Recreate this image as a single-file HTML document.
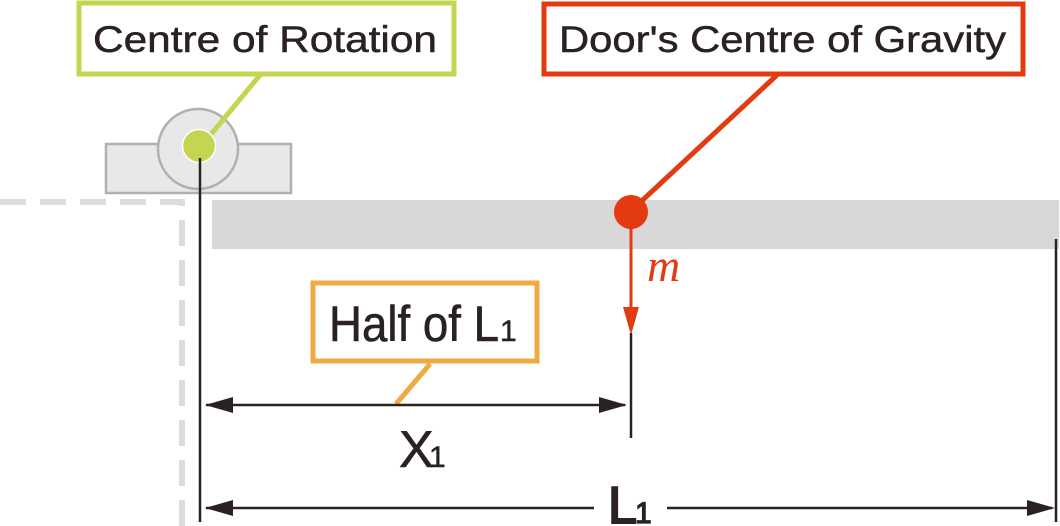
<!DOCTYPE html>
<html><head><meta charset="utf-8"><style>html,body{margin:0;padding:0;background:#fff}svg{display:block}</style></head>
<body>
<svg width="1060" height="526" viewBox="0 0 1060 526" xmlns="http://www.w3.org/2000/svg" font-family="Liberation Sans, sans-serif">
<!-- dashed frame -->
<path d="M0,202 H182 V526" fill="none" stroke="#dcdcdc" stroke-width="6" stroke-dasharray="26,14"/>
<!-- door -->
<rect x="212" y="200" width="847" height="49" fill="#d8d8d8"/>
<!-- hinge -->
<rect x="106" y="144" width="185" height="49" fill="#e8e8e8" stroke="#b0b0b0" stroke-width="2.5"/>
<circle cx="198" cy="149" r="40" fill="#e8e8e8" stroke="#b0b0b0" stroke-width="2.5"/>
<line x1="260" y1="75" x2="208" y2="138" stroke="#c5d551" stroke-width="5"/>
<circle cx="199" cy="146" r="16.5" fill="#c5d551" stroke="#fff" stroke-width="1.5"/>
<!-- green box -->
<rect x="79" y="3" width="375" height="71" fill="#fff" stroke="#c5d551" stroke-width="5"/>
<text x="93" y="52" font-size="37" fill="#2a2222" stroke="#2a2222" stroke-width="0.5" textLength="344" lengthAdjust="spacingAndGlyphs">Centre of Rotation</text>
<!-- red box -->
<line x1="777" y1="75" x2="632" y2="210" stroke="#e43a12" stroke-width="5"/>
<rect x="544" y="4" width="479" height="70" fill="#fff" stroke="#e43a12" stroke-width="5"/>
<text x="559" y="52" font-size="37" fill="#2a2222" stroke="#2a2222" stroke-width="0.5" textLength="447" lengthAdjust="spacingAndGlyphs">Door's Centre of Gravity</text>
<circle cx="631" cy="212" r="17" fill="#e43a12"/>
<line x1="631" y1="212" x2="631" y2="310" stroke="#e43a12" stroke-width="3"/>
<path d="M623,307 L639,307 L631,335 z" fill="#e43a12"/>
<text x="647" y="281" font-family="Liberation Serif, serif" font-style="italic" font-size="46" fill="#e43a12">m</text>
<!-- verticals -->
<line x1="200" y1="158" x2="200" y2="522" stroke="#2a2222" stroke-width="2.5"/>
<line x1="631" y1="333" x2="631" y2="438" stroke="#2a2222" stroke-width="2.5"/>
<line x1="1056" y1="239" x2="1056" y2="522" stroke="#2a2222" stroke-width="2.5"/>
<!-- orange -->
<line x1="430" y1="364" x2="396" y2="404" stroke="#efaa42" stroke-width="5"/>
<rect x="313" y="283" width="224" height="78" fill="#fff" stroke="#efaa42" stroke-width="5"/>
<text x="329" y="341" font-size="50" fill="#2a2222" stroke="#2a2222" stroke-width="0.6" textLength="170" lengthAdjust="spacingAndGlyphs">Half of L</text>
<text x="500" y="341" font-size="30" fill="#2a2222" stroke="#2a2222" stroke-width="0.5">1</text>
<!-- X1 arrow -->
<line x1="206" y1="405" x2="625" y2="405" stroke="#2a2222" stroke-width="2.5"/>
<path d="M205,405 L233,397 L233,413 z" fill="#2a2222"/>
<path d="M627,405 L599,397 L599,413 z" fill="#2a2222"/>
<text x="399" y="467" font-size="52" fill="#2a2222" stroke="#2a2222" stroke-width="0.6">X</text>
<text x="429" y="467" font-size="30" fill="#2a2222" stroke="#2a2222" stroke-width="0.5">1</text>
<!-- L1 arrow -->
<line x1="206" y1="508" x2="594" y2="508" stroke="#2a2222" stroke-width="2.5"/>
<line x1="667" y1="508" x2="1052" y2="508" stroke="#2a2222" stroke-width="2.5"/>
<path d="M205,508 L233,500 L233,516 z" fill="#2a2222"/>
<path d="M1055,508 L1027,500 L1027,516 z" fill="#2a2222"/>
<text x="608" y="523" font-size="52" fill="#2a2222" stroke="#2a2222" stroke-width="2">L</text>
<text x="635" y="523" font-size="30" fill="#2a2222" stroke="#2a2222" stroke-width="1.2">1</text>
</svg>
</body></html>
